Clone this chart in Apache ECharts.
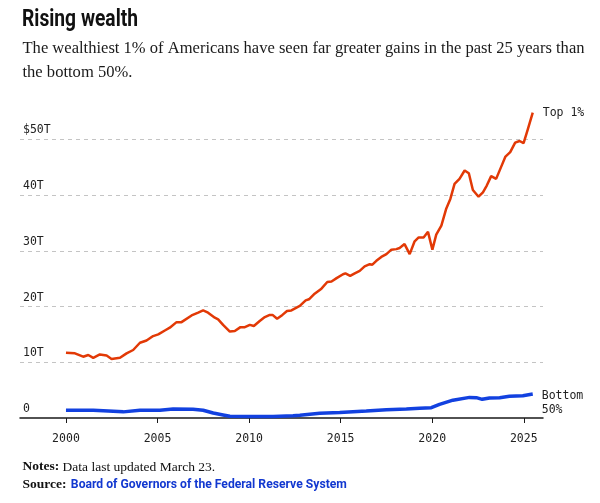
<!DOCTYPE html>
<html>
<head>
<meta charset="utf-8">
<script src="https://cdn.jsdelivr.net/npm/echarts@6/dist/echarts.min.js"></script>
<style>
  html, body { margin: 0; padding: 0; background: #fff; }
  #chart { width: 600px; height: 503px; }
</style>
</head>
<body>
<div id="chart"></div>
<script>
// ---- data (trillions of US dollars) ----
const top1Years = [2000.00, 2000.49, 2000.94, 2001.22, 2001.49, 2001.85, 2002.22, 2002.49, 2002.95, 2003.31,
  2003.67, 2004.04, 2004.40, 2004.76, 2005.04, 2005.40, 2005.67, 2006.04, 2006.31, 2006.86,
  2007.22, 2007.49, 2007.76, 2008.13, 2008.31, 2008.58, 2008.95, 2009.22, 2009.53, 2009.77,
  2010.04, 2010.26, 2010.58, 2010.86, 2011.13, 2011.28, 2011.53, 2011.82, 2012.07, 2012.31,
  2012.59, 2012.77, 2013.09, 2013.27, 2013.58, 2013.95, 2014.27, 2014.50, 2014.78, 2015.13,
  2015.26, 2015.52, 2015.77, 2016.04, 2016.31, 2016.59, 2016.73, 2016.95, 2017.22, 2017.50,
  2017.77, 2018.04, 2018.22, 2018.49, 2018.77, 2019.04, 2019.26, 2019.53, 2019.77, 2020.01,
  2020.22, 2020.50, 2020.77, 2020.99, 2021.22, 2021.49, 2021.77, 2022.00, 2022.22, 2022.53,
  2022.77, 2022.98, 2023.22, 2023.49, 2023.77, 2024.00, 2024.26, 2024.53, 2024.77, 2024.99,
  2025.22, 2025.49];
const top1Values = [11.7, 11.6, 11.0, 11.3, 10.8, 11.4, 11.2, 10.6, 10.8, 11.6,
  12.2, 13.5, 13.9, 14.7, 15.0, 15.7, 16.2, 17.2, 17.2, 18.4,
  18.9, 19.3, 18.9, 18.0, 17.7, 16.7, 15.5, 15.6, 16.3, 16.3,
  16.7, 16.5, 17.4, 18.1, 18.5, 18.5, 17.8, 18.5, 19.2, 19.3,
  19.8, 20.1, 21.1, 21.3, 22.3, 23.2, 24.4, 24.5, 25.1, 25.8,
  25.95, 25.5, 25.95, 26.4, 27.2, 27.6, 27.5, 28.2, 28.9, 29.4,
  30.2, 30.3, 30.5, 31.2, 29.4, 31.7, 32.4, 32.4, 33.4, 30.2,
  32.9, 34.5, 37.6, 39.3, 42.0, 42.9, 44.4, 43.9, 40.9, 39.7,
  40.5, 41.7, 43.4, 42.9, 45.1, 46.9, 47.7, 49.4, 49.7, 49.3,
  51.8, 54.8];

const bottom50Years = [2000.00, 2001.49, 2003.13, 2004.04, 2005.13, 2005.85, 2006.94, 2007.49, 2008.04, 2008.58,
  2008.95, 2010.04, 2011.31, 2012.40, 2012.77, 2013.86, 2014.95, 2016.40, 2017.50, 2018.59,
  2019.31, 2019.95, 2020.40, 2021.13, 2022.04, 2022.41, 2022.73, 2023.13, 2023.68, 2024.22,
  2024.95, 2025.49];
const bottom50Values = [1.4, 1.4, 1.1, 1.4, 1.4, 1.6, 1.55, 1.4, 0.9, 0.55,
  0.3, 0.25, 0.25, 0.4, 0.5, 0.85, 1.0, 1.25, 1.5, 1.6,
  1.75, 1.85, 2.45, 3.2, 3.7, 3.65, 3.35, 3.6, 3.65, 3.9,
  4.0, 4.3];

const xTickYears = [2000, 2005, 2010, 2015, 2020, 2025];
const yTickLabels = { 0: '0', 10: '10T', 20: '20T', 30: '30T', 40: '40T', 50: '$50T' };

const titleText = 'Rising wealth';
const subtitleLines = ['The wealthiest 1% of Americans have seen far greater gains in the past 25 years than',
  'the bottom 50%.'];
const notesLabel = 'Notes:';
const notesText = 'Data last updated March 23.';
const sourceLabel = 'Source:';
const sourceText = 'Board of Governors of the Federal Reserve System';

// ---- helpers ----
const measureCanvas = document.createElement('canvas').getContext('2d');
function fitScale(text, font, targetWidth) {
  measureCanvas.font = font;
  const w = measureCanvas.measureText(text).width;
  return w > 0 ? targetWidth / w : 1;
}
function textEl(text, font, x, y, fill, scale) {
  return {
    type: 'text', x: x, y: y, scaleX: scale === undefined ? 1 : scale,
    style: { text: text, font: font, fill: fill, textVerticalAlign: 'middle' }
  };
}

// ---- chart ----
const top1Data = top1Years.map((y, i) => [y, top1Values[i]]);
const bottom50Data = bottom50Years.map((y, i) => [y, bottom50Values[i]]);

const mono = '"DejaVu Sans Mono", "Liberation Mono", monospace';
const serifName = '"Liberation Serif", "DejaVu Serif", serif';

const titleFont = 'bold 23px Roboto';
const subFont = '16.6px ' + serifName;
const notesBoldFont = 'bold 13.5px ' + serifName;
const notesFont = '13.5px ' + serifName;
const linkFont = 'bold 13.5px Roboto';

const titleScale = fitScale(titleText, titleFont, 116);
const subScale = fitScale(subtitleLines[0], subFont, 562);
const linkScale = fitScale(sourceText, linkFont, 276);
measureCanvas.font = notesBoldFont;
const notesLabelW = measureCanvas.measureText(notesLabel + ' ').width;
const sourceLabelW = measureCanvas.measureText(sourceLabel + ' ').width;

const chart = echarts.init(document.getElementById('chart'), null, { renderer: 'canvas' });
chart.setOption({
  animation: false,
  backgroundColor: '#ffffff',
  grid: { left: 20, right: 57, top: 100.3, bottom: 85, containLabel: false },
  xAxis: {
    type: 'value',
    min: 1997.49,
    max: 2026.05,
    axisLine: { show: true, lineStyle: { color: '#1a1a1a', width: 1.5 } },
    axisTick: { show: true, customValues: xTickYears, length: 5, lineStyle: { color: '#1a1a1a', width: 1 } },
    axisLabel: {
      customValues: xTickYears,
      formatter: v => String(v),
      margin: 15,
      fontFamily: mono,
      fontSize: 11.5,
      color: '#222'
    },
    splitLine: { show: false }
  },
  yAxis: {
    type: 'value',
    min: 0,
    max: 57,
    interval: 10,
    axisLine: { show: false },
    axisTick: { show: false },
    axisLabel: {
      inside: true,
      margin: 3,
      showMaxLabel: false,
      verticalAlign: 'bottom',
      padding: [0, 0, 3, 0],
      formatter: v => (yTickLabels[v] !== undefined ? yTickLabels[v] : ''),
      fontFamily: mono,
      fontSize: 11.5,
      color: '#222'
    },
    splitLine: {
      show: true,
      showMinLine: false,
      showMaxLine: false,
      lineStyle: { color: '#c4c4c4', type: [4, 4], width: 1 }
    }
  },
  series: [
    {
      name: 'Bottom 50%',
      type: 'line',
      data: bottom50Data,
      showSymbol: false,
      lineStyle: { color: '#1241e0', width: 3.5 },
      itemStyle: { color: '#1241e0' },
      endLabel: {
        show: true,
        formatter: 'Bottom\n50%',
        distance: 9,
        offset: [0, 9],
        fontFamily: mono,
        fontSize: 11.5,
        lineHeight: 14,
        color: '#222'
      }
    },
    {
      name: 'Top 1%',
      type: 'line',
      data: top1Data,
      showSymbol: false,
      lineStyle: { color: '#e23906', width: 2.5 },
      itemStyle: { color: '#e23906' },
      endLabel: {
        show: true,
        formatter: 'Top 1%',
        distance: 10,
        fontFamily: mono,
        fontSize: 11.5,
        color: '#222'
      }
    }
  ],
  graphic: [
    textEl(titleText, titleFont, 22, 20, '#111', titleScale),
    textEl(subtitleLines[0], subFont, 22.5, 49, '#1a1a1a', subScale),
    textEl(subtitleLines[1], subFont, 22.5, 73, '#1a1a1a', subScale),
    textEl(notesLabel, notesBoldFont, 22.5, 467, '#111'),
    textEl(notesText, notesFont, 22.5 + notesLabelW, 467, '#111'),
    textEl(sourceLabel, notesBoldFont, 22.5, 484.5, '#111'),
    textEl(sourceText, linkFont, 22.5 + sourceLabelW + 1, 484.5, '#1238d0', linkScale)
  ]
});
</script>
</body>
</html>
